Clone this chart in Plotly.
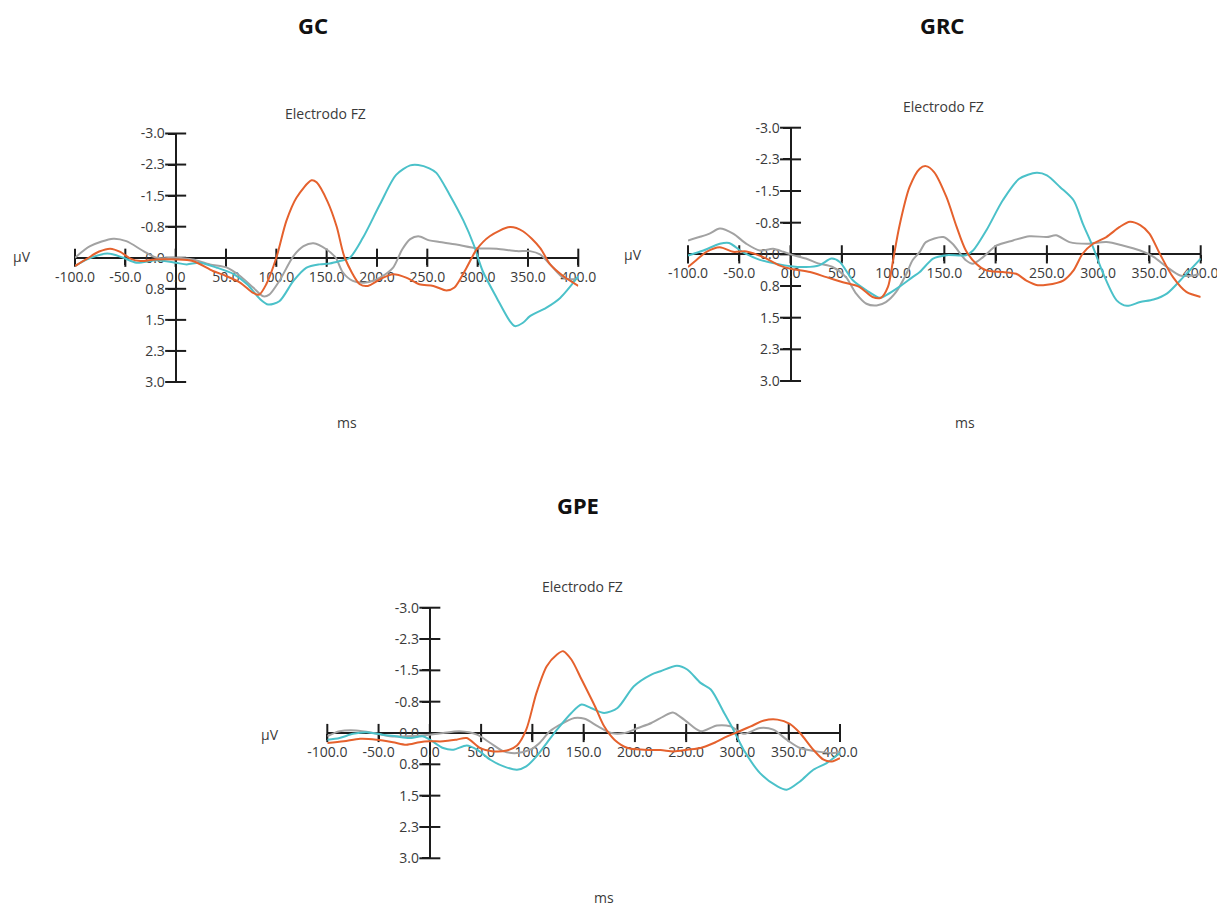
import plotly.graph_objects as go

# page body adds an 8px margin, so the figure is placed at (8, 8) in the window
OFF = 8
W, H = 1225 - OFF, 906 - OFF

# ---------------- data ----------------
X_TICKS = [-100, -50, 0, 50, 100, 150, 200, 250, 300, 350, 400]
X_TICK_TEXT = ["-100.0", "-50.0", "0.0", "50.0", "100.0", "150.0", "200.0", "250.0", "300.0", "350.0", "400.0"]
Y_TICKS = [-3.0, -2.25, -1.5, -0.75, 0.0, 0.75, 1.5, 2.25, 3.0]
Y_TICK_TEXT = ["-3.0", "-2.3", "-1.5", "-0.8", "0.0", "0.8", "1.5", "2.3", "3.0"]

# GC
GC_ORANGE_T = [-100, -88, -76, -65, -55, -45, -35, -20, 0, 17, 37, 50, 64, 77, 83, 90, 100, 110, 120, 135, 140, 151, 160, 168, 183, 191, 203, 216, 229, 242, 256, 269, 277, 289, 299, 312, 332, 345, 362, 372, 385, 400]
GC_ORANGE_V = [0.2, 0.02, -0.15, -0.22, -0.14, 0.02, 0.08, 0.04, 0.04, 0.08, 0.32, 0.44, 0.6, 0.85, 0.89, 0.64, 0.0, -0.89, -1.45, -1.87, -1.82, -1.35, -0.75, 0.0, 0.64, 0.68, 0.52, 0.4, 0.48, 0.64, 0.68, 0.79, 0.72, 0.24, -0.2, -0.52, -0.74, -0.64, -0.24, 0.16, 0.44, 0.68]
GC_CYAN_T = [-100, -88, -68, -52, -39, -19, 0, 11, 24, 41, 58, 71, 84, 92, 103, 117, 130, 143, 153, 163, 173, 186, 203, 219, 233, 241, 252, 259, 272, 286, 296, 305, 319, 332, 337, 345, 352, 368, 382, 400]
GC_CYAN_V = [0.2, 0.04, -0.1, 0.0, 0.12, 0.06, 0.12, 0.16, 0.12, 0.24, 0.4, 0.64, 1.0, 1.13, 1.05, 0.56, 0.24, 0.16, 0.14, 0.08, 0.0, -0.48, -1.29, -2.0, -2.23, -2.24, -2.16, -2.05, -1.53, -0.89, -0.32, 0.32, 0.97, 1.53, 1.65, 1.57, 1.41, 1.21, 0.97, 0.45]
GC_GRAY_T = [-100, -85, -62, -49, -32, -19, 0, 17, 34, 51, 64, 77, 87, 93, 103, 117, 127, 137, 150, 159, 166, 176, 189, 203, 216, 225, 233, 241, 252, 262, 279, 299, 319, 339, 352, 362, 372, 385, 395, 400]
GC_GRAY_V = [0.0, -0.28, -0.46, -0.4, -0.16, 0.0, 0.0, 0.04, 0.16, 0.24, 0.44, 0.72, 0.93, 0.89, 0.56, -0.04, -0.28, -0.35, -0.2, 0.0, 0.35, 0.56, 0.6, 0.48, 0.24, -0.2, -0.45, -0.52, -0.42, -0.38, -0.32, -0.23, -0.22, -0.16, -0.16, -0.08, 0.16, 0.48, 0.52, 0.48]

# GRC
GRC_ORANGE_T = [-100, -92, -82, -69, -56, -43, -27, -11, 0, 19, 35, 51, 67, 80, 88, 95, 100, 106, 116, 126, 132, 140, 152, 162, 171, 181, 191, 207, 220, 230, 241, 250, 266, 276, 285, 295, 308, 321, 331, 341, 350, 360, 373, 386, 400]
GRC_ORANGE_V = [0.3, 0.14, -0.06, -0.17, -0.06, -0.07, 0.06, 0.26, 0.34, 0.42, 0.54, 0.66, 0.77, 1.01, 1.03, 0.77, 0.14, -0.65, -1.59, -2.03, -2.09, -1.95, -1.36, -0.65, -0.09, 0.22, 0.38, 0.42, 0.46, 0.62, 0.73, 0.72, 0.62, 0.38, -0.02, -0.25, -0.41, -0.65, -0.77, -0.69, -0.49, -0.02, 0.54, 0.89, 1.01]
GRC_CYAN_T = [-100, -85, -69, -60, -47, -30, -14, 0, 15, 28, 40, 48, 61, 74, 87, 93, 106, 119, 126, 139, 152, 171, 178, 191, 207, 223, 240, 250, 263, 276, 285, 295, 305, 318, 328, 341, 354, 367, 383, 400]
GRC_CYAN_V = [0.03, -0.09, -0.25, -0.27, -0.06, 0.13, 0.22, 0.28, 0.3, 0.26, 0.1, 0.18, 0.62, 0.85, 1.03, 0.97, 0.77, 0.54, 0.42, 0.1, 0.02, 0.02, -0.09, -0.57, -1.28, -1.79, -1.93, -1.87, -1.59, -1.28, -0.73, -0.17, 0.46, 1.09, 1.22, 1.13, 1.07, 0.93, 0.54, 0.1]
GRC_GRAY_T = [-100, -89, -79, -69, -56, -43, -30, -17, -7, 0, 15, 28, 41, 54, 64, 74, 84, 93, 103, 113, 119, 126, 132, 149, 158, 171, 178, 188, 201, 217, 233, 250, 259, 272, 289, 308, 324, 341, 354, 367, 380, 393, 400]
GRC_GRAY_V = [-0.33, -0.41, -0.49, -0.61, -0.49, -0.25, -0.09, -0.13, -0.06, 0.0, 0.1, 0.22, 0.3, 0.54, 0.93, 1.17, 1.21, 1.13, 0.89, 0.46, 0.14, -0.06, -0.29, -0.41, -0.25, 0.14, 0.22, 0.06, -0.21, -0.33, -0.43, -0.41, -0.45, -0.29, -0.25, -0.29, -0.21, -0.09, 0.06, 0.3, 0.5, 0.5, 0.46]

# GPE
GPE_ORANGE_T = [-100, -84, -68, -52, -36, -23, -10, 0, 13, 26, 36, 49, 62, 75, 85, 94, 104, 114, 124, 130, 138, 148, 161, 170, 180, 193, 209, 225, 238, 251, 264, 277, 290, 300, 313, 326, 339, 351, 361, 374, 384, 392, 400]
GPE_ORANGE_V = [0.24, 0.2, 0.14, 0.16, 0.22, 0.28, 0.22, 0.2, 0.2, 0.16, 0.12, 0.36, 0.44, 0.42, 0.3, -0.08, -0.96, -1.6, -1.88, -1.96, -1.76, -1.28, -0.64, -0.16, 0.16, 0.36, 0.4, 0.41, 0.44, 0.4, 0.36, 0.24, 0.08, -0.02, -0.16, -0.3, -0.32, -0.22, 0.0, 0.4, 0.64, 0.68, 0.6]
GPE_CYAN_T = [-100, -88, -75, -62, -46, -33, -20, -7, 0, 13, 23, 36, 46, 59, 72, 85, 94, 104, 114, 124, 138, 148, 157, 170, 183, 199, 216, 225, 241, 251, 264, 274, 287, 296, 306, 322, 339, 348, 361, 374, 387, 400]
GPE_CYAN_V = [0.16, 0.12, 0.02, -0.02, 0.04, 0.08, 0.12, 0.08, 0.16, 0.36, 0.4, 0.3, 0.4, 0.64, 0.8, 0.88, 0.8, 0.56, 0.24, -0.08, -0.48, -0.68, -0.6, -0.48, -0.6, -1.12, -1.4, -1.48, -1.61, -1.52, -1.2, -1.04, -0.48, -0.08, 0.4, 0.96, 1.28, 1.36, 1.16, 0.88, 0.72, 0.48]
GPE_GRAY_T = [-100, -88, -72, -55, -39, -23, 0, 13, 29, 46, 59, 72, 85, 98, 107, 117, 127, 141, 151, 164, 177, 190, 203, 216, 228, 237, 248, 264, 280, 293, 306, 322, 335, 348, 361, 377, 394, 400]
GPE_GRAY_V = [0.08, -0.04, -0.06, 0.0, 0.08, 0.08, 0.04, 0.0, -0.04, 0.04, 0.24, 0.44, 0.48, 0.4, 0.24, -0.04, -0.2, -0.36, -0.34, -0.16, 0.0, 0.0, -0.12, -0.24, -0.4, -0.49, -0.32, -0.04, -0.18, -0.16, 0.02, -0.12, -0.08, 0.16, 0.36, 0.44, 0.48, 0.44]

# ---------------- styling / layout ----------------
ORANGE = "#E5612D"
CYAN = "#4BC1C9"
GRAY = "#A2A2A2"
AXIS = "#1c1c1c"
TEXT = "#3a3a3a"
FONT = "Open Sans"

# positions in window pixels
panels = [
    dict(title="GC", title_px=(313, 25), sub_px=(325, 113), uv_px=(22, 257), ms_px=(347, 422),
         xpx=(75, 578.3), ypx=(133.5, 382),
         series=[(GC_GRAY_T, GC_GRAY_V, GRAY), (GC_CYAN_T, GC_CYAN_V, CYAN), (GC_ORANGE_T, GC_ORANGE_V, ORANGE)]),
    dict(title="GRC", title_px=(942, 25), sub_px=(943, 106), uv_px=(633, 254), ms_px=(965, 422),
         xpx=(688, 1200.7), ypx=(127.7, 381),
         series=[(GRC_GRAY_T, GRC_GRAY_V, GRAY), (GRC_CYAN_T, GRC_CYAN_V, CYAN), (GRC_ORANGE_T, GRC_ORANGE_V, ORANGE)]),
    dict(title="GPE", title_px=(578, 505), sub_px=(582, 586), uv_px=(270, 734), ms_px=(604, 897),
         xpx=(327.3, 840), ypx=(607.7, 858.3),
         series=[(GPE_GRAY_T, GPE_GRAY_V, GRAY), (GPE_CYAN_T, GPE_CYAN_V, CYAN), (GPE_ORANGE_T, GPE_ORANGE_V, ORANGE)]),
]

fig = go.Figure()
annotations = []
layout_axes = {}


def fx(px):
    return (px - OFF) / W


def fy(py):
    return 1 - (py - OFF) / H


for i, p in enumerate(panels):
    n = "" if i == 0 else str(i + 1)
    xref, yref = "x" + n, "y" + n
    x0, x1 = p["xpx"]
    y0, y1 = p["ypx"]
    xdom = [fx(x0), fx(x1)]
    ydom = [fy(y1), fy(y0)]
    xr = [X_TICKS[0], X_TICKS[-1]]
    yaxis_xpos = fx(x0 + (0 - xr[0]) / (xr[1] - xr[0]) * (x1 - x0))
    xaxis_ypos = (ydom[0] + ydom[1]) / 2

    layout_axes["xaxis" + n] = dict(
        domain=xdom, range=xr, anchor="free", position=xaxis_ypos, automargin=False,
        showline=True, linecolor=AXIS, linewidth=2, showgrid=False, zeroline=False,
        tickmode="array", tickvals=X_TICKS, ticktext=X_TICK_TEXT,
        ticks="outside", ticklen=6, tickwidth=2, tickcolor=AXIS,
        tickfont=dict(family=FONT, size=14, color=TEXT), layer="below traces",
    )
    layout_axes["yaxis" + n] = dict(
        domain=ydom, range=[Y_TICKS[-1], Y_TICKS[0]], anchor="free", position=yaxis_xpos, automargin=False,
        showline=True, linecolor=AXIS, linewidth=2, showgrid=False, zeroline=False,
        tickmode="array", tickvals=Y_TICKS, ticktext=Y_TICK_TEXT,
        ticks="outside", ticklen=7, tickwidth=2, tickcolor=AXIS,
        tickfont=dict(family=FONT, size=14, color=TEXT), layer="below traces",
    )

    # crossing tick marks
    fig.add_trace(go.Scatter(x=X_TICKS, y=[0] * len(X_TICKS), xaxis=xref, yaxis=yref, mode="markers",
                             marker=dict(symbol="line-ns", size=13, line=dict(width=2, color=AXIS)),
                             cliponaxis=False, hoverinfo="skip", showlegend=False))
    fig.add_trace(go.Scatter(x=[0] * len(Y_TICKS), y=Y_TICKS, xaxis=xref, yaxis=yref, mode="markers",
                             marker=dict(symbol="line-ew", size=15, line=dict(width=2, color=AXIS)),
                             cliponaxis=False, hoverinfo="skip", showlegend=False))

    for t, v, c in p["series"]:
        fig.add_trace(go.Scatter(x=t, y=v, xaxis=xref, yaxis=yref, mode="lines",
                                 line=dict(color=c, width=2, shape="spline", smoothing=0.8),
                                 hoverinfo="skip", showlegend=False))

    annotations += [
        dict(text="<b>%s</b>" % p["title"], x=fx(p["title_px"][0]), y=fy(p["title_px"][1]),
             font=dict(family="Noto Sans", size=22, color="#111111")),
        dict(text="Electrodo FZ", x=fx(p["sub_px"][0]), y=fy(p["sub_px"][1]),
             font=dict(family=FONT, size=14, color=TEXT)),
        dict(text="µV", x=fx(p["uv_px"][0]), y=fy(p["uv_px"][1]),
             font=dict(family=FONT, size=14, color=TEXT)),
        dict(text="ms", x=fx(p["ms_px"][0]), y=fy(p["ms_px"][1]),
             font=dict(family=FONT, size=14, color=TEXT)),
    ]

for a in annotations:
    a.update(xref="paper", yref="paper", showarrow=False, xanchor="center", yanchor="middle")

fig.update_layout(
    width=W, height=H, margin=dict(l=0, r=0, t=0, b=0, pad=0, autoexpand=False),
    paper_bgcolor="white", plot_bgcolor="white",
    annotations=annotations, showlegend=False, **layout_axes,
)

fig.write_html("out.html")
